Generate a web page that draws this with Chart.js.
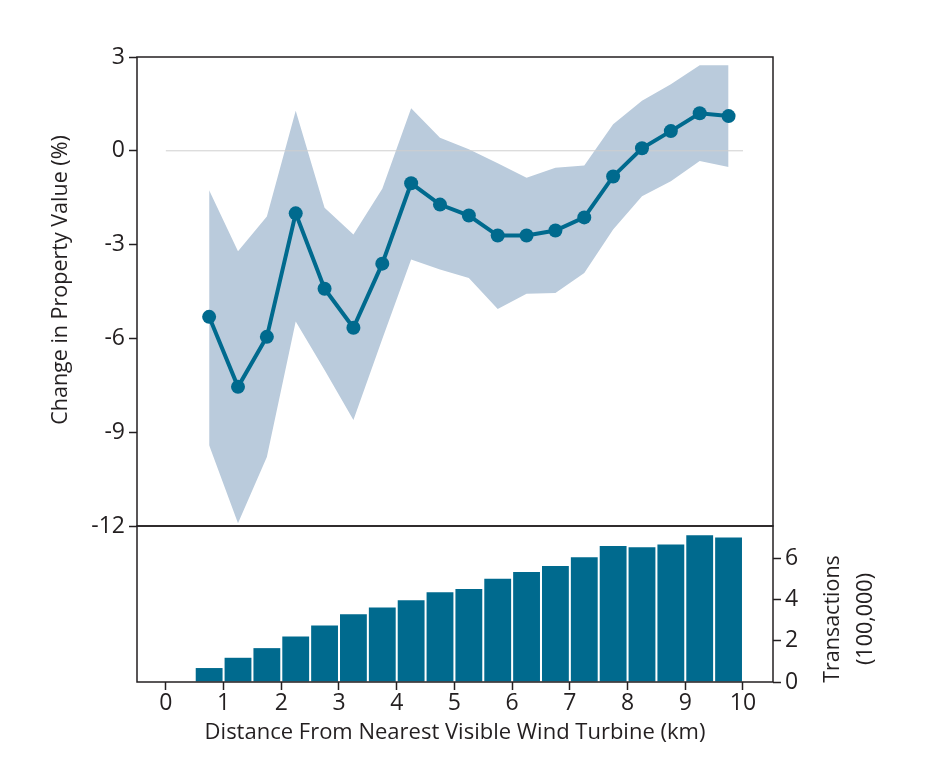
<!DOCTYPE html>
<html>

<head>
    <title>Wind turbine distance and property value</title>
    <script src="https://cdn.jsdelivr.net/npm/chart.js"></script>
    <style>
        body { margin: 0; background: #fff; }
        #wrap { position: relative; width: 931px; height: 761px; }
        canvas { position: absolute; left: 0; top: 0; }
    </style>
</head>

<body>
    <div id="wrap">
        <canvas id="topChart" width="931" height="761"></canvas>
        <canvas id="barChart" width="931" height="761"></canvas>
    </div>

    <script>
        // distance bins (km), midpoints
        var distances = [0.75, 1.25, 1.75, 2.25, 2.75, 3.25, 3.75, 4.25, 4.75, 5.25,
            5.75, 6.25, 6.75, 7.25, 7.75, 8.25, 8.75, 9.25, 9.75];

        // change in property value (%)
        var estimate = [-5.31, -7.55, -5.95, -2.0, -4.41, -5.66, -3.61, -1.04, -1.72, -2.07,
            -2.71, -2.71, -2.55, -2.13, -0.82, 0.08, 0.63, 1.2, 1.11];
        var upperCI = [-1.26, -3.21, -2.1, 1.28, -1.82, -2.68, -1.21, 1.36, 0.42, 0.05,
            -0.4, -0.86, -0.54, -0.47, 0.85, 1.6, 2.13, 2.74, 2.74];
        var lowerCI = [-9.42, -11.91, -9.79, -5.46, -7.01, -8.61, -6.02, -3.48, -3.8, -4.07,
            -5.06, -4.57, -4.55, -3.91, -2.52, -1.45, -0.97, -0.33, -0.52];

        // transactions (100,000)
        var transactions = [0.68, 1.18, 1.65, 2.22, 2.75, 3.3, 3.63, 3.98, 4.37, 4.53,
            5.03, 5.36, 5.65, 6.08, 6.63, 6.57, 6.7, 7.15, 7.04];

        var xTicks = [0, 1, 2, 3, 4, 5, 6, 7, 8, 9, 10];
        var valueTicks = [-12, -9, -6, -3, 0, 3];
        var transTicks = [0, 2, 4, 6];

        var teal = '#006a8e';
        var band = '#bacbdc';
        var ink = '#231f20';
        var font = 'Open Sans';

        function pts(ys) {
            return distances.map(function (d, i) { return { x: d, y: ys[i] }; });
        }

        function setTicks(list) {
            return function (scale) {
                scale.ticks = list.map(function (v) { return { value: v }; });
            };
        }

        // box around the plot area
        var frame = {
            id: 'frame',
            afterDraw: function (chart) {
                var a = chart.chartArea, c = chart.ctx;
                c.save();
                c.strokeStyle = ink;
                c.lineWidth = 1.5;
                c.strokeRect(a.left, a.top, a.right - a.left, a.bottom - a.top);
                c.restore();
            }
        };

        // rotated axis titles (read bottom to top on both sides)
        function sideTitles(lines) {
            return {
                id: 'sideTitles',
                afterDraw: function (chart) {
                    var c = chart.ctx;
                    c.save();
                    c.fillStyle = ink;
                    c.font = '21.5px "' + font + '"';
                    c.textAlign = 'center';
                    c.textBaseline = 'middle';
                    lines.forEach(function (l) {
                        c.save();
                        c.translate(l.x, l.y);
                        c.rotate(-Math.PI / 2);
                        c.fillText(l.text, 0, 0);
                        c.restore();
                    });
                    c.restore();
                }
            };
        }

        Chart.defaults.font.family = font;
        Chart.defaults.color = ink;

        var tickGrid = {
            display: true,
            offset: false,
            drawOnChartArea: false,
            drawTicks: true,
            tickLength: 8,
            tickWidth: 1.5,
            tickColor: ink
        };

        new Chart(document.getElementById('topChart'), {
            type: 'line',
            data: {
                datasets: [
                    {
                        data: pts(estimate),
                        borderColor: teal,
                        backgroundColor: teal,
                        borderWidth: 4,
                        pointRadius: 7,
                        pointBorderWidth: 0,
                        pointBackgroundColor: teal,
                        fill: false,
                        order: 0
                    },
                    {
                        data: [{ x: 0, y: 0 }, { x: 10, y: 0 }],
                        borderColor: '#cfcfcf',
                        borderWidth: 1,
                        pointRadius: 0,
                        fill: false,
                        order: 1
                    },
                    {
                        data: pts(upperCI),
                        borderWidth: 0,
                        pointRadius: 0,
                        backgroundColor: band,
                        fill: '+1',
                        order: 2
                    },
                    {
                        data: pts(lowerCI),
                        borderWidth: 0,
                        pointRadius: 0,
                        backgroundColor: band,
                        fill: false,
                        order: 3
                    }]
            },
            options: {
                responsive: false,
                animation: false,
                layout: { padding: { top: 57, bottom: 235, left: 0, right: 158 } },
                plugins: { legend: { display: false }, tooltip: { enabled: false } },
                scales: {
                    x: { type: 'linear', min: -0.5, max: 10.52, display: false },
                    y: {
                        min: -12,
                        max: 3,
                        afterBuildTicks: setTicks(valueTicks),
                        afterFit: function (s) { s.width = 137; },
                        border: { display: false },
                        grid: tickGrid,
                        ticks: { font: { size: 23 }, padding: 4 }
                    }
                }
            },
            plugins: [frame, sideTitles([{ text: 'Change in Property Value (%)', x: 61, y: 280 }])]
        });

        new Chart(document.getElementById('barChart'), {
            type: 'bar',
            data: {
                datasets: [{
                    data: pts(transactions),
                    backgroundColor: teal,
                    barPercentage: 0.93,
                    categoryPercentage: 1
                }]
            },
            options: {
                responsive: false,
                animation: false,
                layout: { padding: { top: 526, bottom: 0, left: 137, right: 0 } },
                plugins: { legend: { display: false }, tooltip: { enabled: false } },
                scales: {
                    x: {
                        type: 'linear',
                        min: -0.5,
                        max: 10.52,
                        offset: false,
                        afterBuildTicks: setTicks(xTicks),
                        afterFit: function (s) { s.height = 79; },
                        border: { display: false },
                        grid: tickGrid,
                        ticks: { font: { size: 23 }, padding: 0 },
                        title: {
                            display: true,
                            text: 'Distance From Nearest Visible Wind Turbine (km)',
                            font: { size: 22 },
                            padding: { top: 0, bottom: 15 }
                        }
                    },
                    y: {
                        position: 'right',
                        min: 0,
                        max: 7.6,
                        afterBuildTicks: setTicks(transTicks),
                        afterFit: function (s) { s.width = 158; },
                        border: { display: false },
                        grid: tickGrid,
                        ticks: { font: { size: 23 }, padding: 4 }
                    }
                }
            },
            plugins: [frame, sideTitles([
                { text: 'Transactions', x: 833, y: 619 },
                { text: '(100,000)', x: 866, y: 619 }])]
        });
    </script>

</body>

</html>
